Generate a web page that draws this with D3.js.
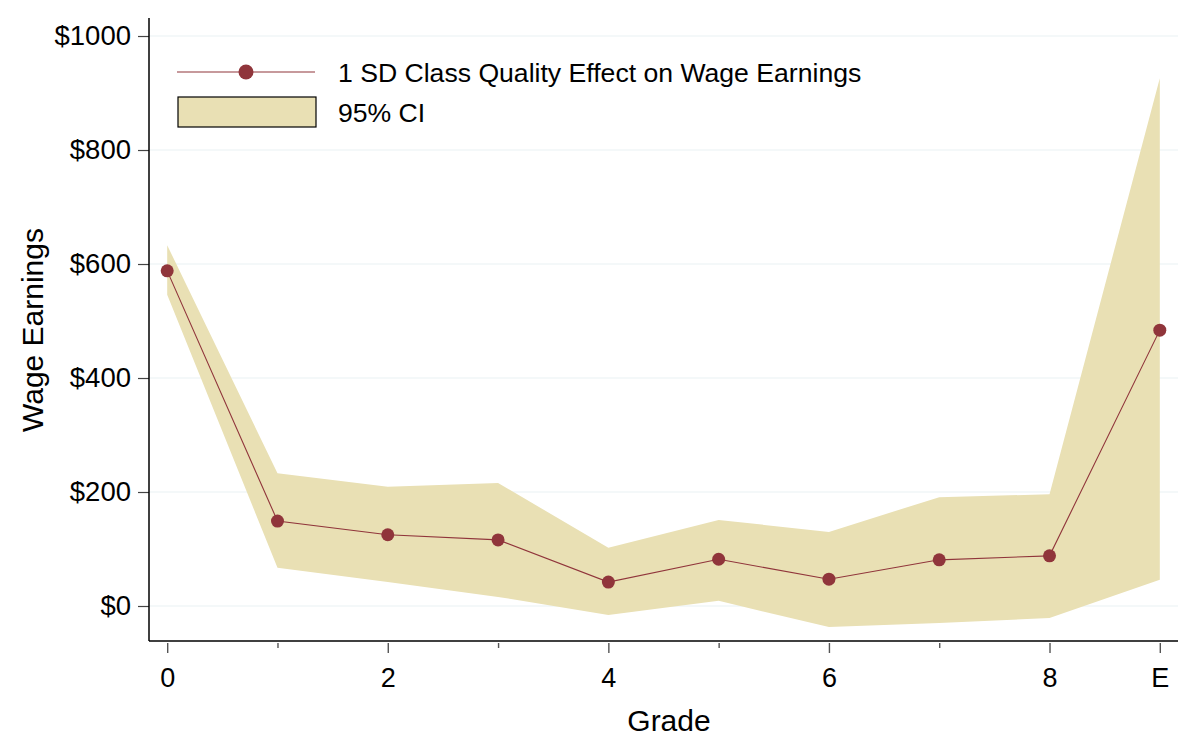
<!DOCTYPE html>
<html>
<head>
<meta charset="utf-8">
<script src="https://cdn.jsdelivr.net/npm/d3@7"></script>
<style>
  body { margin: 0; background: #fff; }
  svg text { font-family: "Liberation Sans", Arial, sans-serif; fill: #000; }
</style>
</head>
<body>
<div id="chart"></div>
<script>
// grade index 9 is the "E" position
const grades = [0, 1, 2, 3, 4, 5, 6, 7, 8, 9];
const effect = [588, 149, 125, 116, 42, 82, 47, 81, 88, 484];
const ciUpper = [633, 233, 209, 216, 102, 151, 130, 191, 196, 926];
const ciLower = [546, 67, 42, 16, -16, 9, -37, -30, -21, 46];

const majorTicks = [0, 2, 4, 6, 8, 9];
const majorLabels = ["0", "2", "4", "6", "8", "E"];
const minorTicks = [1, 3, 5, 7];
const yTicks = [0, 200, 400, 600, 800, 1000];

const seriesLabel = "1 SD Class Quality Effect on Wage Earnings";
const ciLabel = "95% CI";

const W = 1196, H = 750;
const plot = { left: 149, right: 1178, top: 18, bottom: 641 };

const svg = d3.select("#chart").append("svg")
    .attr("width", W)
    .attr("height", H);

const x = d3.scaleLinear().domain([-0.165, 9.165]).range([plot.left, plot.right]);
const y = d3.scaleLinear().domain([-61.4, 1031.6]).range([plot.bottom, plot.top]);

// gridlines
svg.append("g")
    .selectAll("line")
    .data(yTicks)
    .enter()
    .append("line")
    .attr("x1", plot.left)
    .attr("x2", plot.right)
    .attr("y1", d => y(d))
    .attr("y2", d => y(d))
    .attr("stroke", "#eaf1f3")
    .attr("stroke-width", 1.2);

// confidence band
let rows = grades.map((g, i) => ({ g: g, lo: ciLower[i], hi: ciUpper[i], v: effect[i] }));

svg.append("path")
    .datum(rows)
    .attr("fill", "#e9e0b4")
    .attr("d", d3.area()
        .x(d => x(d.g))
        .y0(d => y(d.lo))
        .y1(d => y(d.hi)));

// effect line + markers
svg.append("path")
    .datum(rows)
    .attr("fill", "none")
    .attr("stroke", "#90353b")
    .attr("stroke-width", 1.1)
    .attr("d", d3.line().x(d => x(d.g)).y(d => y(d.v)));

svg.append("g")
    .selectAll("circle")
    .data(rows)
    .enter()
    .append("circle")
    .attr("cx", d => x(d.g))
    .attr("cy", d => y(d.v))
    .attr("r", 6.5)
    .attr("fill", "#90353b");

// y axis
let yAxis = svg.append("g")
    .attr("transform", "translate(" + plot.left + ",0)")
    .call(d3.axisLeft(y).tickValues(yTicks).tickSize(11).tickPadding(7).tickFormat(d => "$" + d));
yAxis.select(".domain").remove();
yAxis.selectAll(".tick line").attr("stroke", "#444").attr("stroke-width", 1.2);
yAxis.selectAll(".tick text").style("font-size", "27.5px").attr("fill", "#000");

svg.append("line")
    .attr("x1", plot.left).attr("x2", plot.left)
    .attr("y1", plot.top).attr("y2", plot.bottom)
    .attr("stroke", "#000").attr("stroke-width", 1.5);

// x axis
svg.append("line")
    .attr("x1", plot.left).attr("x2", plot.right)
    .attr("y1", plot.bottom).attr("y2", plot.bottom)
    .attr("stroke", "#000").attr("stroke-width", 1.5);

let xAxis = svg.append("g")
    .attr("transform", "translate(0," + (plot.bottom + 2) + ")")
    .call(d3.axisBottom(x).tickValues(majorTicks).tickSize(10).tickPadding(15)
        .tickFormat((d, i) => majorLabels[i]));
xAxis.select(".domain").remove();
xAxis.selectAll(".tick line").attr("stroke", "#555").attr("stroke-width", 1.4);
xAxis.selectAll(".tick text").style("font-size", "27px").attr("fill", "#000");

let xMinor = svg.append("g")
    .attr("transform", "translate(0," + (plot.bottom + 2) + ")")
    .call(d3.axisBottom(x).tickValues(minorTicks).tickSize(5).tickFormat(""));
xMinor.select(".domain").remove();
xMinor.selectAll(".tick line").attr("stroke", "#555").attr("stroke-width", 1.4);

// axis titles
svg.append("text")
    .attr("x", 669)
    .attr("y", 731)
    .attr("text-anchor", "middle")
    .style("font-size", "30px")
    .text("Grade");

svg.append("text")
    .attr("transform", "translate(43,330) rotate(-90)")
    .attr("text-anchor", "middle")
    .style("font-size", "30px")
    .text("Wage Earnings");

// legend
let legend = svg.append("g");

legend.append("line")
    .attr("x1", 177).attr("x2", 315)
    .attr("y1", 72).attr("y2", 72)
    .attr("stroke", "#90353b").attr("stroke-width", 1.1);
legend.append("circle")
    .attr("cx", 246).attr("cy", 72).attr("r", 7.5)
    .attr("fill", "#90353b");
legend.append("text")
    .attr("x", 338).attr("y", 82)
    .style("font-size", "26.6px")
    .text(seriesLabel);

legend.append("rect")
    .attr("x", 178).attr("y", 97)
    .attr("width", 138).attr("height", 30)
    .attr("fill", "#e9e0b4")
    .attr("stroke", "#000").attr("stroke-width", 1.2);
legend.append("text")
    .attr("x", 338).attr("y", 122)
    .style("font-size", "26.6px")
    .text(ciLabel);
</script>
</body>
</html>
